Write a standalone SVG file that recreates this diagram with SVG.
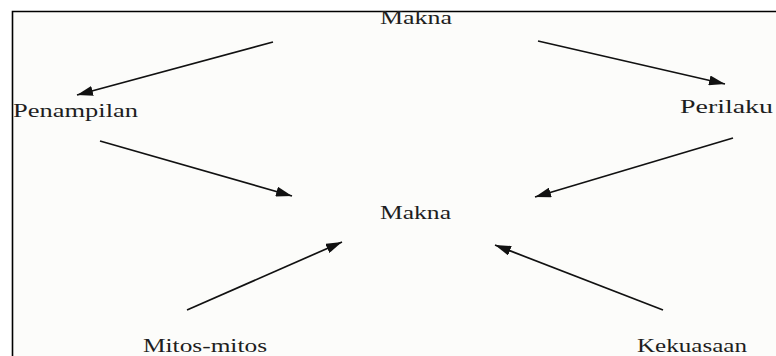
<svg xmlns="http://www.w3.org/2000/svg" width="776" height="356" viewBox="0 0 776 356">
<defs>
<marker id="ah" viewBox="0 0 16 10" refX="16" refY="5" markerWidth="16" markerHeight="10" markerUnits="userSpaceOnUse" orient="auto">
<path d="M0,0 L16,5 L0,10 Z" fill="#111"/>
</marker>
<style>
.lbl{font-family:"Liberation Serif","Times New Roman",serif;font-size:18px;fill:#1e1e1e}
.con line{stroke:#111;stroke-width:1.7;marker-end:url(#ah)}
</style>
</defs>
<rect x="0" y="0" width="776" height="356" fill="#ffffff"/>
<rect x="12" y="11" width="764" height="345" fill="#fcfcfa"/>
<path d="M12.5,356 L12.5,11.5 L776,11.5" fill="none" stroke="#000" stroke-width="1.6"/>
<g id="connectors" class="con">
<line x1="273" y1="42" x2="77" y2="95"/>
<line x1="100" y1="141" x2="292" y2="196"/>
<line x1="538" y1="41" x2="725" y2="84"/>
<line x1="733" y1="138" x2="535" y2="197"/>
<line x1="187" y1="310" x2="342" y2="242"/>
<line x1="663" y1="310" x2="495" y2="245"/>
</g>
<g id="makna-top"><text class="lbl" x="380" y="24" textLength="72" lengthAdjust="spacingAndGlyphs">Makna</text></g>
<g id="penampilan"><text class="lbl" x="13" y="117" textLength="125" lengthAdjust="spacingAndGlyphs">Penampilan</text></g>
<g id="perilaku"><text class="lbl" x="680" y="113" textLength="93" lengthAdjust="spacingAndGlyphs">Perilaku</text></g>
<g id="makna-center"><text class="lbl" x="380" y="219" textLength="71" lengthAdjust="spacingAndGlyphs">Makna</text></g>
<g id="mitos"><text class="lbl" x="143" y="352" textLength="124" lengthAdjust="spacingAndGlyphs">Mitos-mitos</text></g>
<g id="kekuasaan"><text class="lbl" x="637" y="352" textLength="110" lengthAdjust="spacingAndGlyphs">Kekuasaan</text></g>
</svg>
